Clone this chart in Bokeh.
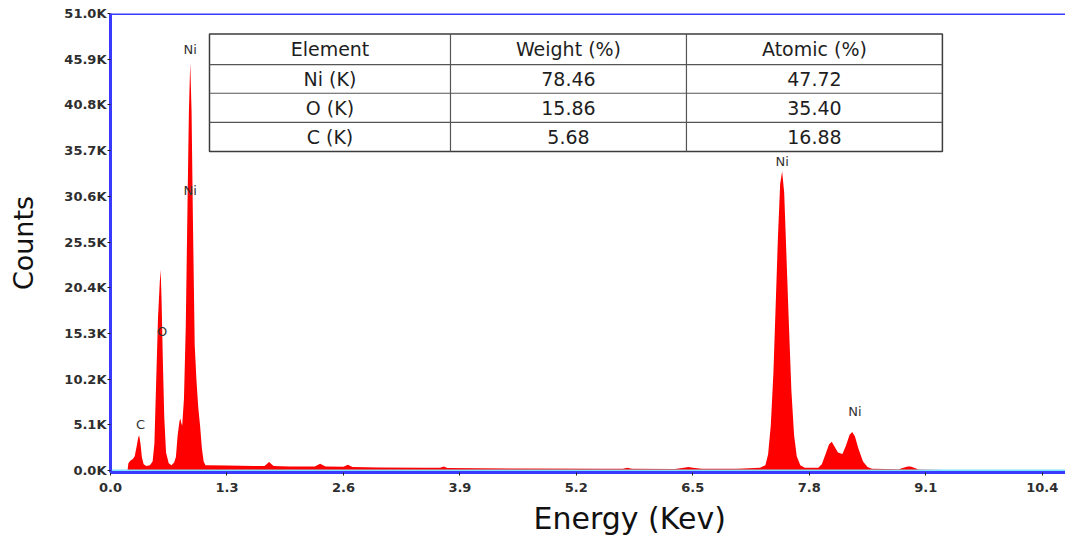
from bokeh.plotting import figure
from bokeh.models import (FixedTicker, CustomJSTickFormatter, PrintfTickFormatter,
                          Span, ColumnDataSource, Range1d, Title)
from bokeh.core.properties import value
from bokeh.embed import file_html
from bokeh.resources import INLINE

# ---------------- data ----------------
energy_kev = [0.0, 0.18, 0.19, 0.20, 0.22, 0.25, 0.27, 0.29, 0.31, 0.32, 0.335, 0.35, 0.37,
              0.40, 0.44, 0.47, 0.49, 0.51, 0.53, 0.55, 0.56, 0.57, 0.585, 0.60, 0.62, 0.65,
              0.68, 0.71, 0.73, 0.75, 0.77, 0.78, 0.79, 0.80, 0.82, 0.84, 0.86, 0.875, 0.89,
              0.905, 0.92, 0.94, 0.96, 0.98, 1.00, 1.02, 1.04, 1.06, 1.3, 1.6, 1.72, 1.77,
              1.82, 2.0, 2.28, 2.34, 2.40, 2.6, 2.65, 2.70, 3.0, 3.5, 3.68, 3.72, 3.76, 4.5,
              5.5, 5.72, 5.77, 5.82, 6.3, 6.4, 6.45, 6.5, 6.6, 7.0, 7.25, 7.31, 7.34, 7.37,
              7.40, 7.42, 7.45, 7.475, 7.497, 7.52, 7.545, 7.57, 7.60, 7.63, 7.66, 7.70,
              7.75, 7.90, 7.94, 7.98, 8.02, 8.05, 8.08, 8.12, 8.17, 8.21, 8.25, 8.28, 8.31,
              8.35, 8.40, 8.45, 8.50, 8.80, 8.85, 8.90, 8.93, 8.97, 9.02, 9.3, 10.66]
counts = [0, 0, 0, 800, 1100, 1300, 1600, 2600, 3700, 3900, 3000, 1500, 700,
          500, 600, 1000, 3000, 10000, 17000, 21000, 22400, 19000, 12000, 6000, 2000, 800,
          600, 900, 1500, 4000, 5500, 5800, 5300, 5000, 8000, 16000, 30000, 40000, 45500,
          40000, 28000, 14000, 10000, 7000, 5000, 2500, 1000, 600, 550, 500, 500, 950,
          500, 450, 450, 750, 450, 420, 650, 400, 350, 300, 300, 450, 280, 220,
          200, 200, 300, 200, 180, 300, 400, 300, 200, 200, 300, 600, 1800, 5000,
          11000, 17000, 26000, 32000, 33400, 31000, 24000, 17000, 9000, 4000, 1600, 600,
          300, 300, 700, 1800, 2900, 3200, 2700, 2000, 1850, 2800, 4000, 4300, 3800,
          2400, 1000, 400, 200, 150, 300, 450, 450, 300, 120, 50, 50]

x_ticks = [0.0, 1.3, 2.6, 3.9, 5.2, 6.5, 7.8, 9.1, 10.4]
y_ticks = [0, 5100, 10200, 15300, 20400, 25500, 30600, 35700, 40800, 45900, 51000]

peak_labels = ["Ni", "Ni", "O", "C", "Ni", "Ni"]
peak_label_x = [0.89, 0.89, 0.577, 0.335, 7.497, 8.31]
peak_label_y = [47000, 31200, 15500, 5100, 34500, 6600]

table_header = ["Element", "Weight (%)", "Atomic (%)"]
table_elements = ["Ni (K)", "O (K)", "C (K)"]
table_weight = ["78.46", "15.86", "5.68"]
table_atomic = ["47.72", "35.40", "16.88"]

# ---------------- figure ----------------
p = figure(width=1065, height=545, output_backend="svg", toolbar_location=None,
           x_range=Range1d(0, 10.66), y_range=Range1d(-220, 51000),
           min_border_left=110, min_border_right=0, min_border_top=13, min_border_bottom=73)
p.outline_line_color = None
p.xgrid.grid_line_color = None
p.ygrid.grid_line_color = None
p.background_fill_color = "white"

src = ColumnDataSource(dict(x=energy_kev, y=counts, y0=[0] * len(counts)))
p.varea(x="x", y1="y0", y2="y", source=src, fill_color="#ff0000")

# cyan base line just above the axis
p.line(x=[0, 10.66], y=[0, 0], line_color="#7fe3ff", line_width=2)

# axes
for ax in (p.xaxis[0], p.yaxis[0]):
    ax.axis_line_color = "#3a3aff"
    ax.axis_line_width = 3
    ax.major_tick_line_color = "#222222"
    ax.major_tick_in = 0
    ax.major_tick_out = 3
    ax.minor_tick_line_color = None
    ax.major_label_text_font = "DejaVu Sans"
    ax.major_label_text_font_size = "13px"
    ax.major_label_text_font_style = "bold"
    ax.major_label_text_color = "#2e2e2e"

p.xaxis.ticker = FixedTicker(ticks=x_ticks)
p.xaxis.formatter = PrintfTickFormatter(format="%.1f")
p.xaxis.major_label_standoff = 7
p.yaxis.ticker = FixedTicker(ticks=y_ticks)
p.yaxis.formatter = CustomJSTickFormatter(code="return (tick/1000).toFixed(1) + 'K';")
p.yaxis.major_label_standoff = 1

# y axis title
p.yaxis.axis_label = "Counts"
p.yaxis.axis_label_text_font = "DejaVu Sans"
p.yaxis.axis_label_text_font_size = "27px"
p.yaxis.axis_label_text_font_style = "normal"
p.yaxis.axis_label_text_color = "#111111"
p.yaxis.axis_label_standoff = 22

# x axis title (offset to the right as in the reference)
p.add_layout(Title(text="Energy (Kev)", align="left", offset=423, standoff=9,
                   text_font="DejaVu Sans", text_font_size="30px",
                   text_font_style="normal", text_color="#111111"), "below")

# top border line
p.add_layout(Span(location=51000, dimension="width", line_color="#3a3aff", line_width=3))

# peak labels
p.text(x=peak_label_x, y=peak_label_y, text=peak_labels, text_align="center",
       text_baseline="middle", text_font=value("DejaVu Sans"), text_font_size="13px",
       text_color="#333333")

# ---------------- table ----------------
tx = [1.105, 3.795, 6.429, 9.286]          # column boundaries (keV)
ty = [48700, 45300, 42100, 38850, 35600]   # row boundaries (counts)
p.quad(left=tx[0], right=tx[-1], bottom=ty[-1], top=ty[0], fill_color="white",
       line_color="#3c3c3c", line_width=1.5)
p.segment(x0=[tx[0]] * 3, x1=[tx[-1]] * 3, y0=ty[1:4], y1=ty[1:4],
          line_color="#555555", line_width=1.2)
p.segment(x0=tx[1:3], x1=tx[1:3], y0=[ty[0]] * 2, y1=[ty[-1]] * 2,
          line_color="#555555", line_width=1.2)

col_c = [(tx[i] + tx[i + 1]) / 2 for i in range(3)]
row_c = [(ty[i] + ty[i + 1]) / 2 for i in range(4)]
cells_x, cells_y, cells_t = [], [], []
columns = [[table_header[0]] + table_elements,
           [table_header[1]] + table_weight,
           [table_header[2]] + table_atomic]
for ci, col in enumerate(columns):
    for ri, t in enumerate(col):
        cells_x.append(col_c[ci]); cells_y.append(row_c[ri]); cells_t.append(t)
p.text(x=cells_x, y=cells_y, text=cells_t, text_align="center", text_baseline="middle",
       text_font=value("DejaVu Sans"), text_font_size="19px", text_color="#1e1e1e")

open("out.html", "w").write(file_html(p, INLINE))
